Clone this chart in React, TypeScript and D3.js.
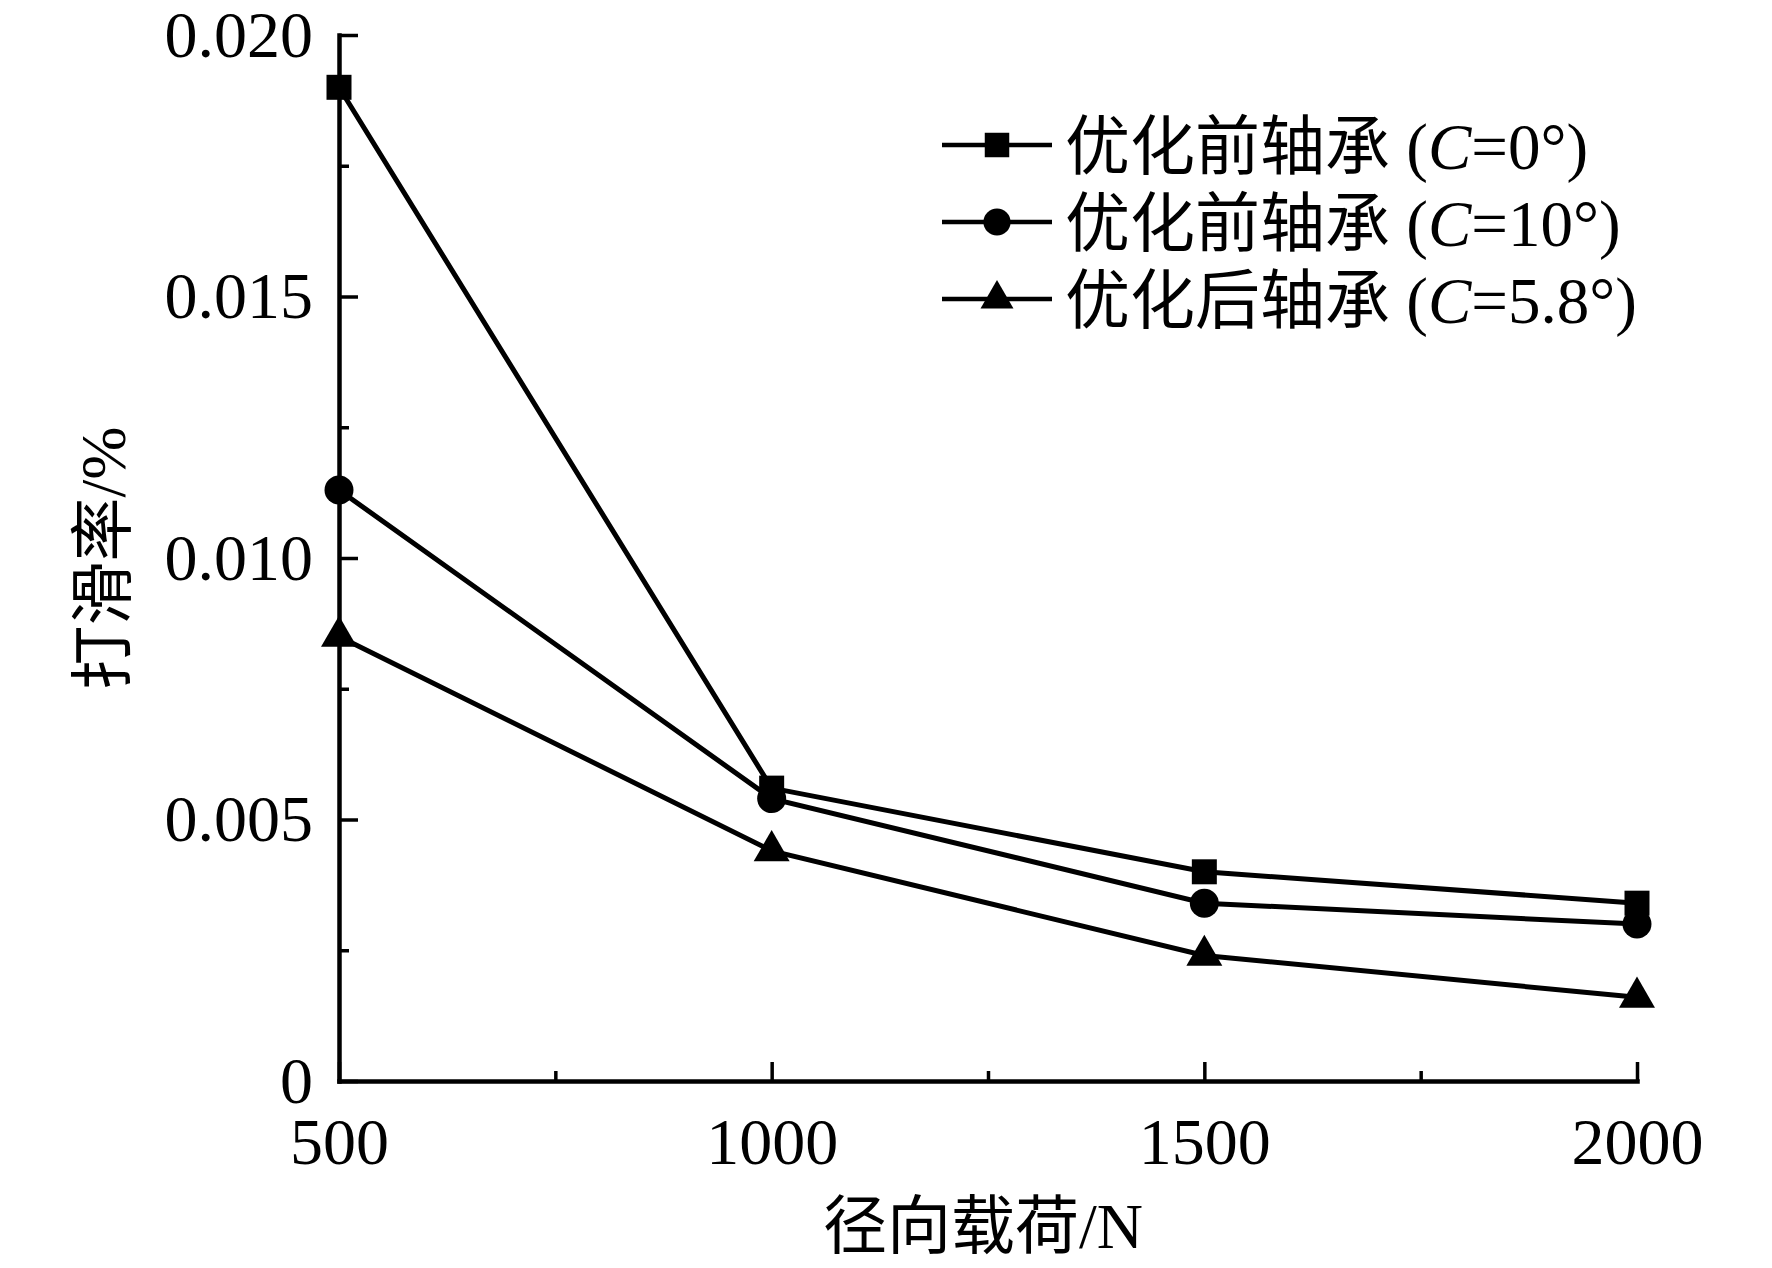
import { useEffect, useRef } from 'react';
import * as d3 from 'd3';

const loads = [500, 1000, 1500, 2000];
const slipC0 = [0.019, 0.0056, 0.004, 0.0034];
const slipC10 = [0.0113, 0.0054, 0.0034, 0.003];
const slipC58 = [0.0085, 0.0044, 0.0024, 0.0016];

const xTicks = [500, 1000, 1500, 2000];
const xMinorTicks = [750, 1250, 1750];
const yTicks = [0, 0.005, 0.01, 0.015, 0.02];
const yTickLabels = ['0', '0.005', '0.010', '0.015', '0.020'];
const yMinorTicks = [0.0025, 0.0075, 0.0125, 0.0175];

const seriesNames = ['优化前轴承', '优化前轴承', '优化后轴承'];
const seriesAngles = ['0°', '10°', '5.8°'];
const seriesSymbols = [d3.symbolSquare, d3.symbolCircle, d3.symbolTriangle];

const xTitle = '径向载荷/N';
const yTitle = '打滑率/%';

const NUM_FONT = '"Times New Roman", "Liberation Serif", serif';
const MIX_FONT = '"Times New Roman", "Liberation Serif", "Noto Sans CJK SC", serif';

export default function App() {
  const svgRef = useRef<SVGSVGElement>(null);

  useEffect(() => {
    if (!svgRef.current) return;
    const width = 1772;
    const height = 1268;
    const svg = d3.select(svgRef.current);
    svg.selectAll('*').remove();
    svg.attr('width', width).attr('height', height);

    const x = d3.scaleLinear().domain([500, 2000]).range([339, 1637]);
    const y = d3.scaleLinear().domain([0, 0.02]).range([1081, 35]);

    const g = svg.append('g');

    // x axis
    const xAxis = g
      .append('g')
      .attr('transform', `translate(0,${y(0)})`)
      .call(
        d3
          .axisBottom(x)
          .tickValues(xTicks)
          .tickFormat((d) => String(d))
          .tickSizeInner(-19)
          .tickSizeOuter(0)
          .tickPadding(36)
      );
    xAxis
      .selectAll('text')
      .attr('font-size', 66)
      .attr('font-family', NUM_FONT)
      .attr('fill', '#000');
    g.append('g')
      .attr('transform', `translate(0,${y(0)})`)
      .call(d3.axisBottom(x).tickValues(xMinorTicks).tickFormat(() => '').tickSizeInner(-10).tickSizeOuter(0))
      .select('.domain')
      .remove();

    // y axis
    const yAxis = g
      .append('g')
      .attr('transform', `translate(${x(500)},0)`)
      .call(
        d3
          .axisLeft(y)
          .tickValues(yTicks)
          .tickFormat((_, i) => yTickLabels[i])
          .tickSizeInner(-19)
          .tickSizeOuter(0)
          .tickPadding(26)
      );
    yAxis
      .selectAll('text')
      .attr('font-size', 66)
      .attr('font-family', NUM_FONT)
      .attr('fill', '#000');
    g.append('g')
      .attr('transform', `translate(${x(500)},0)`)
      .call(d3.axisLeft(y).tickValues(yMinorTicks).tickFormat(() => '').tickSizeInner(-10).tickSizeOuter(0))
      .select('.domain')
      .remove();

    g.selectAll('.domain').attr('stroke', '#000').attr('stroke-width', 4.5).attr('stroke-linecap', 'square');
    g.selectAll('.tick line').attr('stroke', '#000').attr('stroke-width', 3.5);

    // data
    const allSeries = [slipC0, slipC10, slipC58];
    const line = d3
      .line<number>()
      .x((_, i) => x(loads[i]))
      .y((d) => y(d));
    const markerSizes = [625, 660, 560];

    allSeries.forEach((values) => {
      g.append('path')
        .attr('d', line(values))
        .attr('fill', 'none')
        .attr('stroke', '#000')
        .attr('stroke-width', 5);
    });
    allSeries.forEach((values, si) => {
      g.selectAll(null)
        .data(values)
        .enter()
        .append('path')
        .attr('d', d3.symbol(seriesSymbols[si], markerSizes[si])())
        .attr('transform', (d, i) => `translate(${x(loads[i])},${y(d)})`)
        .attr('fill', '#000');
    });

    // legend
    const legendY = [145, 222, 299];
    const legendSizes = [600, 580, 470];
    seriesNames.forEach((name, i) => {
      const lg = g.append('g').attr('transform', `translate(0,${legendY[i]})`);
      lg.append('line')
        .attr('x1', 942)
        .attr('x2', 1052)
        .attr('y1', 0)
        .attr('y2', 0)
        .attr('stroke', '#000')
        .attr('stroke-width', 4.5);
      lg.append('path')
        .attr('d', d3.symbol(seriesSymbols[i], legendSizes[i])())
        .attr('transform', 'translate(997,0)')
        .attr('fill', '#000');
      const t = lg
        .append('text')
        .attr('x', 1065)
        .attr('y', 24)
        .attr('font-size', 65)
        .attr('font-family', MIX_FONT)
        .attr('fill', '#000');
      t.append('tspan').text(name);
      t.append('tspan').text(' (');
      t.append('tspan').attr('font-style', 'italic').text('C');
      t.append('tspan').text(`=${seriesAngles[i]})`);
    });

    // axis titles
    g.append('text')
      .attr('x', 983)
      .attr('y', 1248)
      .attr('text-anchor', 'middle')
      .attr('font-size', 64)
      .attr('font-family', MIX_FONT)
      .attr('fill', '#000')
      .text(xTitle);

    g.append('text')
      .attr('transform', 'translate(125,558) rotate(-90)')
      .attr('text-anchor', 'middle')
      .attr('font-size', 64)
      .attr('font-family', MIX_FONT)
      .attr('fill', '#000')
      .text(yTitle);
  }, []);

  return (
    <div style={{ position: 'absolute', left: 0, top: 0, background: '#fff' }}>
      <svg ref={svgRef} style={{ display: 'block' }} />
    </div>
  );
}
